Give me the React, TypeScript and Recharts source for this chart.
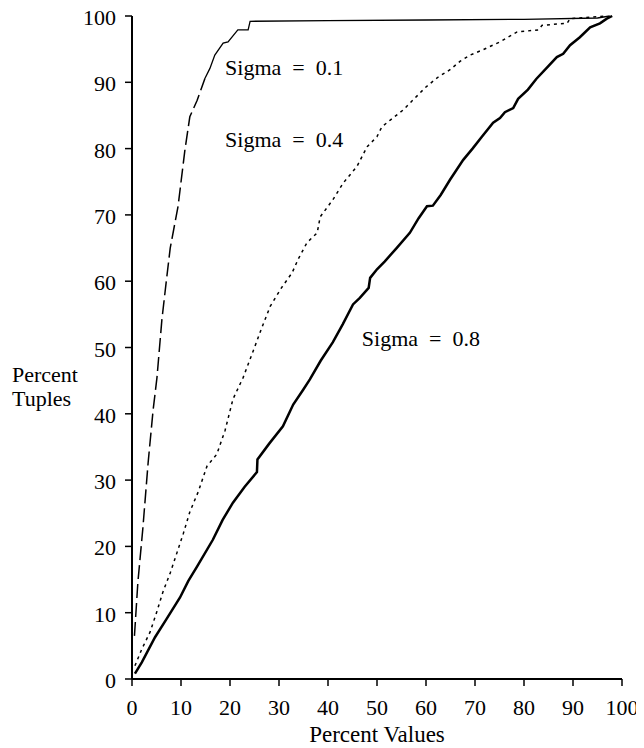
import { LineChart, Line, XAxis, YAxis, ReferenceDot } from "recharts"

const FONT = "'Liberation Serif', 'Times New Roman', serif"

// axis ticks (percent)
const xTicks = [0, 10, 20, 30, 40, 50, 60, 70, 80, 90, 100]
const yTicks = [0, 10, 20, 30, 40, 50, 60, 70, 80, 90, 100]

// Sigma = 0.1 : steep dashed part, then thin solid run along the top
const sigma01Dashed = [
  { x: 0.5, y: 6.5 }, { x: 1.2, y: 14.6 }, { x: 2.2, y: 22.6 }, { x: 3.3, y: 32.7 },
  { x: 4.3, y: 40.5 }, { x: 5.1, y: 45.5 }, { x: 6.1, y: 54.2 }, { x: 7, y: 60 },
  { x: 7.8, y: 65 }, { x: 9.4, y: 71.3 }, { x: 10.8, y: 79.8 }, { x: 11.8, y: 84.8 },
  { x: 13.3, y: 87.3 }, { x: 14.9, y: 90.6 },
]
const sigma01Top = [
  { x: 14.9, y: 90.6 }, { x: 15.9, y: 92.1 }, { x: 16.9, y: 94.1 }, { x: 18.6, y: 95.9 },
  { x: 19.6, y: 96.1 }, { x: 21.6, y: 97.9 }, { x: 23.7, y: 97.9 }, { x: 24.1, y: 99.2 },
  { x: 40, y: 99.3 }, { x: 60, y: 99.4 }, { x: 80, y: 99.5 }, { x: 95, y: 99.7 },
  { x: 97.5, y: 100 },
]

// Sigma = 0.4 : dotted
const sigma04 = [
  { x: 0.6, y: 2 }, { x: 2, y: 4.5 }, { x: 3.7, y: 7.1 }, { x: 5, y: 10 },
  { x: 6.3, y: 13.1 }, { x: 7.8, y: 16 }, { x: 9.2, y: 19.1 }, { x: 10.5, y: 22 },
  { x: 11.8, y: 25.2 }, { x: 13.5, y: 28.2 }, { x: 15.3, y: 32.1 }, { x: 17.3, y: 33.9 },
  { x: 19, y: 37.5 }, { x: 20.6, y: 42.2 }, { x: 22.7, y: 45.5 }, { x: 25.1, y: 50.2 },
  { x: 26.5, y: 53 }, { x: 28.2, y: 56.2 }, { x: 30.5, y: 59 }, { x: 32.7, y: 61.3 },
  { x: 33.9, y: 63.3 }, { x: 35.7, y: 65.8 }, { x: 37.8, y: 67.3 }, { x: 38.4, y: 69.7 },
  { x: 41, y: 72.3 }, { x: 43.1, y: 74.8 }, { x: 45.9, y: 77.3 }, { x: 48, y: 80.3 },
  { x: 50, y: 81.8 }, { x: 51, y: 83.3 }, { x: 52.7, y: 84.3 }, { x: 55.3, y: 85.8 },
  { x: 57.3, y: 87.3 }, { x: 60, y: 89.3 }, { x: 62.5, y: 90.8 }, { x: 64.9, y: 91.9 },
  { x: 67, y: 93.2 }, { x: 69, y: 94.1 }, { x: 71.6, y: 94.9 }, { x: 75.1, y: 96.1 },
  { x: 78.6, y: 97.6 }, { x: 82.9, y: 97.9 }, { x: 83.7, y: 98.6 }, { x: 88.8, y: 98.9 },
  { x: 89.4, y: 99.6 }, { x: 96.9, y: 100 },
]

// Sigma = 0.8 : thick solid
const sigma08 = [
  { x: 0.6, y: 0.8 }, { x: 2, y: 2.5 }, { x: 4.7, y: 6.3 }, { x: 7, y: 9 },
  { x: 9.8, y: 12.3 }, { x: 11.5, y: 14.8 }, { x: 13.3, y: 17 }, { x: 16.5, y: 21 },
  { x: 18.5, y: 24 }, { x: 20.6, y: 26.6 }, { x: 23, y: 29 }, { x: 25.5, y: 31.2 },
  { x: 25.6, y: 33.1 }, { x: 28, y: 35.5 }, { x: 30.8, y: 38.1 }, { x: 32.9, y: 41.4 },
  { x: 34.9, y: 43.6 }, { x: 36.3, y: 45.2 }, { x: 38.5, y: 48 }, { x: 41, y: 50.8 },
  { x: 43, y: 53.5 }, { x: 45.1, y: 56.5 }, { x: 46.5, y: 57.5 }, { x: 48.3, y: 59 },
  { x: 48.6, y: 60.5 }, { x: 50, y: 61.8 }, { x: 51.6, y: 63 }, { x: 54, y: 65 },
  { x: 56.7, y: 67.3 }, { x: 58.5, y: 69.5 }, { x: 60.2, y: 71.3 }, { x: 61.4, y: 71.4 },
  { x: 63, y: 73 }, { x: 64.9, y: 75.3 }, { x: 67.6, y: 78.3 }, { x: 69.5, y: 80 },
  { x: 71.4, y: 81.8 }, { x: 73.7, y: 83.9 }, { x: 75.1, y: 84.6 }, { x: 76.1, y: 85.5 },
  { x: 77.8, y: 86.1 }, { x: 78.8, y: 87.5 }, { x: 80.8, y: 88.9 }, { x: 82.5, y: 90.5 },
  { x: 84.3, y: 91.9 }, { x: 86.7, y: 93.8 }, { x: 88, y: 94.3 }, { x: 89.4, y: 95.6 },
  { x: 91.4, y: 96.8 }, { x: 93.5, y: 98.3 }, { x: 95.5, y: 98.9 }, { x: 96.9, y: 99.6 },
  { x: 98, y: 100 },
]

// curve annotations (left end of text, baseline)
const curveLabels = [
  { text: "Sigma = 0.1", x: 19, y: 91.1 },
  { text: "Sigma = 0.4", x: 19, y: 80.3 },
  { text: "Sigma = 0.8", x: 46.9, y: 50.2 },
]

const axisLine = { stroke: "#000", strokeWidth: 2 }
const tickLine = { stroke: "#000", strokeWidth: 1.5 }

function XTick(props: any) {
  const { x, y, payload } = props
  return (
    <text x={x} y={y} dy={15} textAnchor="middle" fill="#000" fontSize={22} fontFamily={FONT}>
      {payload.value}
    </text>
  )
}

function YTick(props: any) {
  const { x, y, payload } = props
  return (
    <text x={x} y={y} dy={9} textAnchor="end" fill="#000" fontSize={22} fontFamily={FONT}>
      {payload.value}
    </text>
  )
}

function YTitle(props: any) {
  const vb = props.viewBox || { x: 0, y: 16, width: 132, height: 663 }
  const mid = vb.y + vb.height / 2
  return (
    <text x={vb.x + 12} fill="#000" fontSize={22} fontFamily={FONT}>
      <tspan x={vb.x + 12} y={mid + 34}>Percent</tspan>
      <tspan x={vb.x + 12} y={mid + 58}>Tuples</tspan>
    </text>
  )
}

function XTitle(props: any) {
  const vb = props.viewBox || { x: 132, y: 679, width: 490, height: 69 }
  return (
    <text x={vb.x + vb.width / 2} y={vb.y + 63} textAnchor="middle"
      fill="#000" fontSize={23} fontFamily={FONT}>
      Percent Values
    </text>
  )
}

export default function App() {
  return (
    <div style={{ margin: "-8px 0 0 -8px" }}>
      <LineChart width={644} height={748} margin={{ top: 16, right: 22, bottom: 0, left: 0 }}>
        <XAxis
          type="number" dataKey="x" domain={[0, 100]} ticks={xTicks} interval={0}
          height={69} tickSize={7} tickMargin={14}
          axisLine={axisLine} tickLine={tickLine} tick={<XTick />}
          label={{ content: XTitle }}
        />
        <YAxis
          type="number" dataKey="y" domain={[0, 100]} ticks={yTicks} interval={0}
          width={132} tickSize={7} tickMargin={9}
          axisLine={axisLine} tickLine={tickLine} tick={<YTick />}
          label={{ content: YTitle }}
        />
        <Line data={sigma01Dashed} dataKey="y" type="linear" stroke="#000" strokeWidth={1.5}
          strokeDasharray="14 5" dot={false} activeDot={false} isAnimationActive={false} />
        <Line data={sigma01Top} dataKey="y" type="linear" stroke="#000" strokeWidth={1.3}
          dot={false} activeDot={false} isAnimationActive={false} />
        <Line data={sigma04} dataKey="y" type="linear" stroke="#000" strokeWidth={1.5}
          strokeDasharray="3 4" dot={false} activeDot={false} isAnimationActive={false} />
        <Line data={sigma08} dataKey="y" type="linear" stroke="#000" strokeWidth={2.5}
          dot={false} activeDot={false} isAnimationActive={false} />
        {curveLabels.map((l) => (
          <ReferenceDot key={l.text} x={l.x} y={l.y} r={0}
            shape={(p: any) => (
              <text x={p.cx} y={p.cy} fill="#000" fontSize={22} fontFamily={FONT}
                style={{ whiteSpace: "pre" }}>
                {l.text.replace(" = ", "  =  ")}
              </text>
            )}
          />
        ))}
      </LineChart>
    </div>
  )
}
